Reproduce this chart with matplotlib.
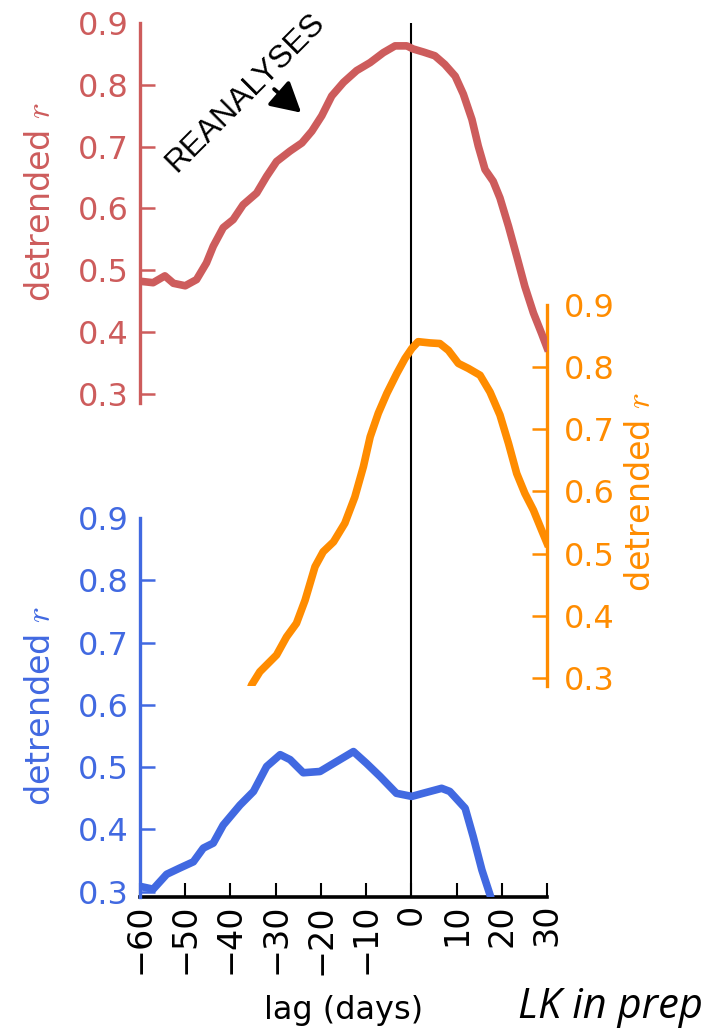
import matplotlib
matplotlib.use("Agg")
import matplotlib.pyplot as plt
import numpy as np

plt.rcParams["font.family"] = "DejaVu Sans"
plt.rcParams["mathtext.fontset"] = "cm"

RED = "#cd5c5c"
ORANGE = "#ff8c00"
BLUE = "#4169e1"

# lagged correlation curves (lag in days, detrended r)
lag_red = [-59.6, -57.1, -54.5, -52.6, -50.0, -47.5, -45.3, -43.8, -41.6, -39.4,
           -37.2, -34.2, -32.0, -29.8, -26.8, -24.2, -22.0, -19.8, -17.6, -15.0,
           -12.1, -9.1, -6.2, -3.6, -1.0, 0.4, 2.7, 5.2, 7.4, 9.7,
           11.5, 13.4, 14.8, 16.3, 18.1, 19.6, 21.5, 23.3, 25.1, 27.0,
           28.8, 30.0]
r_red = [0.482, 0.480, 0.491, 0.479, 0.475, 0.485, 0.512, 0.539, 0.569, 0.582,
         0.606, 0.625, 0.652, 0.676, 0.693, 0.706, 0.725, 0.750, 0.782, 0.804,
         0.823, 0.836, 0.852, 0.863, 0.863, 0.858, 0.853, 0.847, 0.833, 0.814,
         0.785, 0.744, 0.701, 0.663, 0.644, 0.617, 0.571, 0.523, 0.474, 0.431,
         0.398, 0.375]

lag_orange = [-36.2, -35.3, -33.5, -29.8, -27.6, -25.4, -23.5, -21.3, -19.5, -17.2,
              -14.7, -12.5, -10.6, -9.1, -7.3, -5.4, -3.2, -1.4, 0.1, 1.5,
              4.1, 6.3, 8.2, 10.4, 12.6, 15.2, 17.4, 19.6, 21.5, 23.3,
              25.1, 27.0, 28.8, 30.0]
r_orange = [0.272, 0.289, 0.310, 0.337, 0.366, 0.388, 0.425, 0.479, 0.503, 0.519,
            0.549, 0.591, 0.640, 0.688, 0.726, 0.758, 0.790, 0.814, 0.830, 0.841,
            0.839, 0.838, 0.827, 0.806, 0.798, 0.787, 0.760, 0.723, 0.677, 0.629,
            0.597, 0.570, 0.538, 0.517]

lag_blue = [-59.6, -57.1, -54.1, -51.2, -48.2, -46.0, -43.8, -41.6, -37.9, -34.9,
            -32.0, -29.0, -26.8, -23.9, -20.2, -17.2, -12.8, -9.9, -6.9, -3.3,
            0.1, 2.6, 6.7, 8.5, 11.9, 13.7, 15.6, 17.4, 18.4]
r_blue = [0.308, 0.304, 0.328, 0.338, 0.348, 0.370, 0.378, 0.407, 0.439, 0.461,
          0.501, 0.520, 0.512, 0.491, 0.493, 0.506, 0.525, 0.506, 0.485, 0.458,
          0.453, 0.458, 0.466, 0.461, 0.434, 0.388, 0.335, 0.295, 0.270]

x_ticks = [-60, -50, -40, -30, -20, -10, 0, 10, 20, 30]
x_ticklabels = ["\u221260", "\u221250", "\u221240", "\u221230", "\u221220",
                "\u221210", "0", "10", "20", "30"]
r_ticks = [0.3, 0.4, 0.5, 0.6, 0.7, 0.8, 0.9]

W, H = 722, 1028


def box(top, bottom):
    return [140 / W, 1 - bottom / H, 407 / W, (bottom - top) / H]


fig = plt.figure(figsize=(W / 100, H / 100), dpi=100)

# base axes: lag axis and zero-lag line
ax = fig.add_axes(box(23, 897))
ax.set_xlim(-60, 30)
ax.set_ylim(0, 1)
for s in ["left", "right", "top"]:
    ax.spines[s].set_visible(False)
ax.spines["bottom"].set_linewidth(2.6)
ax.set_yticks([])
ax.set_xticks(x_ticks)
ax.set_xticklabels(x_ticklabels, rotation=90)
ax.tick_params(axis="x", direction="in", length=10, width=1.5, labelsize=24, pad=5)
ax.axvline(0, color="black", lw=1.5)
ax.set_xlabel("lag (days)", fontsize=23, labelpad=15)


def corr_axes(rect, ylim, color, side):
    a = fig.add_axes(rect, sharex=ax)
    a.patch.set_visible(False)
    for s in ["left", "right", "top", "bottom"]:
        a.spines[s].set_visible(s == side)
    a.spines[side].set_color(color)
    a.spines[side].set_linewidth(2.4)
    a.set_ylim(*ylim)
    a.set_yticks(r_ticks)
    a.set_yticklabels(["%.1f" % t for t in r_ticks])
    a.tick_params(axis="x", bottom=False, labelbottom=False)
    if side == "right":
        a.yaxis.tick_right()
        a.yaxis.set_label_position("right")
    a.tick_params(axis="y", direction="in", length=11, width=1.8, colors=color,
                  labelsize=23, pad=12 if side == "right" else 8)
    a.yaxis.get_major_ticks()[-1].tick1line.set_visible(False)
    a.yaxis.get_major_ticks()[-1].tick2line.set_visible(False)
    a.set_ylabel("detrended $r$", color=color, fontsize=24)
    return a


ax_blue = corr_axes(box(518, 897), (0.2915, 0.9), BLUE, "left")
ax_blue.yaxis.set_label_coords(-0.205, 0.505)
ax_blue.plot(lag_blue, r_blue, color=BLUE, lw=5.5)

ax_orange = corr_axes(box(305, 686), (0.2871, 0.9), ORANGE, "right")
ax_orange.yaxis.set_label_coords(1.19, 0.51)
ax_orange.plot(lag_orange, r_orange, color=ORANGE, lw=5.5)

ax_red = corr_axes(box(23, 403), (0.2854, 0.9), RED, "left")
ax_red.yaxis.set_label_coords(-0.205, 0.53)
ax_red.plot(lag_red, r_red, color=RED, lw=5.5)

ax_red.text(-36.6, 0.788, "REANALYSES", rotation=45, ha="center", va="center",
            fontsize=23, family="Liberation Sans", color="black")
ax_red.annotate("", xy=(-23.9, 0.752), xytext=(-30.8, 0.796),
                arrowprops=dict(arrowstyle="-|>,head_length=0.9,head_width=0.5",
                                color="black", lw=2.8, mutation_scale=20))

fig.text(518 / W, 1 - 1018 / H, "LK in prep", fontsize=30, style="italic",
         family="Open Sans", ha="left", va="baseline")

fig.savefig("out.png", dpi=100)
